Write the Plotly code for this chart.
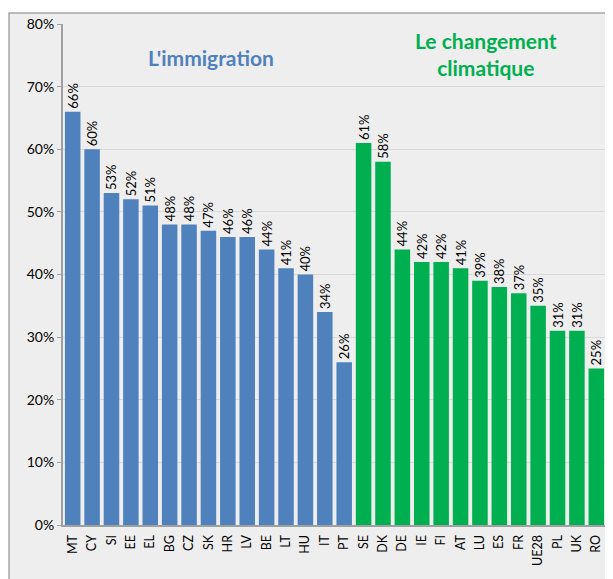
import plotly.graph_objects as go

# immigration group
pays_immig = ["MT", "CY", "SI", "EE", "EL", "BG", "CZ", "SK", "HR", "LV", "BE", "LT", "HU", "IT", "PT"]
val_immig = [0.66, 0.60, 0.53, 0.52, 0.51, 0.48, 0.48, 0.47, 0.46, 0.46, 0.44, 0.41, 0.40, 0.34, 0.26]

# climate group
pays_clim = ["SE", "DK", "DE", "IE", "FI", "AT", "LU", "ES", "FR", "UE28", "PL", "UK", "RO"]
val_clim = [0.61, 0.58, 0.44, 0.42, 0.42, 0.41, 0.39, 0.38, 0.37, 0.35, 0.31, 0.31, 0.25]

BLUE = "#4f81bd"
GREEN = "#00b050"
FONT = "Lato"

fig = go.Figure()
for pays, vals, col in [(pays_immig, val_immig, BLUE), (pays_clim, val_clim, GREEN)]:
    fig.add_trace(go.Bar(
        x=pays, y=vals,
        marker=dict(color=col, line=dict(width=0)),
        texttemplate="%{y:.0%}",
        textposition="outside",
        textangle=-90,
        constraintext="none",
        textfont=dict(size=13, color="black", family=FONT),
        cliponaxis=False,
        showlegend=False,
    ))

# grey frame behind the chart
fig.add_shape(type="rect", xref="paper", yref="paper",
              x0=-0.0994, x1=1.2, y0=-0.3, y1=1.0218,
              fillcolor="#eeeeee", line=dict(color="#a6a6a6", width=1.5),
              layer="below")

fig.add_annotation(text="<b>L'immigration</b>", xref="paper", yref="paper",
                   x=0.2726, y=0.9325, xanchor="center", yanchor="middle",
                   showarrow=False,
                   font=dict(size=21, color=BLUE, family=FONT))
fig.add_annotation(text="<b>Le changement<br>climatique</b>", xref="paper", yref="paper",
                   x=0.779, y=0.94, xanchor="center", yanchor="middle",
                   showarrow=False,
                   font=dict(size=21, color=GREEN, family=FONT))

# page body has an 8px margin, so the figure is 8px smaller
fig.update_layout(
    width=605, height=571,
    margin=dict(l=55, r=7, t=13, b=54),
    paper_bgcolor="white",
    plot_bgcolor="rgba(0,0,0,0)",
    bargap=0.2,
    font=dict(family=FONT, size=13, color="black"),
    xaxis=dict(
        categoryorder="array", categoryarray=pays_immig + pays_clim,
        tickangle=-90, tickfont=dict(size=12.5),
        ticklabelstandoff=3,
        showline=True, linecolor="#a0a0a0", linewidth=2,
        ticks="", showgrid=False,
    ),
    yaxis=dict(
        range=[0, 0.8], dtick=0.1, tickformat=".0%",
        showgrid=True, gridcolor="#d9d9d9", gridwidth=1,
        showline=True, linecolor="#a0a0a0", linewidth=2,
        ticks="outside", ticklen=4, tickcolor="#a0a0a0",
        tickfont=dict(size=14),
        zeroline=False,
    ),
)

# faint right border of the plot area
fig.add_shape(type="line", xref="paper", yref="paper", x0=1, x1=1, y0=0, y1=1,
              line=dict(color="#d9d9d9", width=1), layer="below")

fig.write_html("out.html")
